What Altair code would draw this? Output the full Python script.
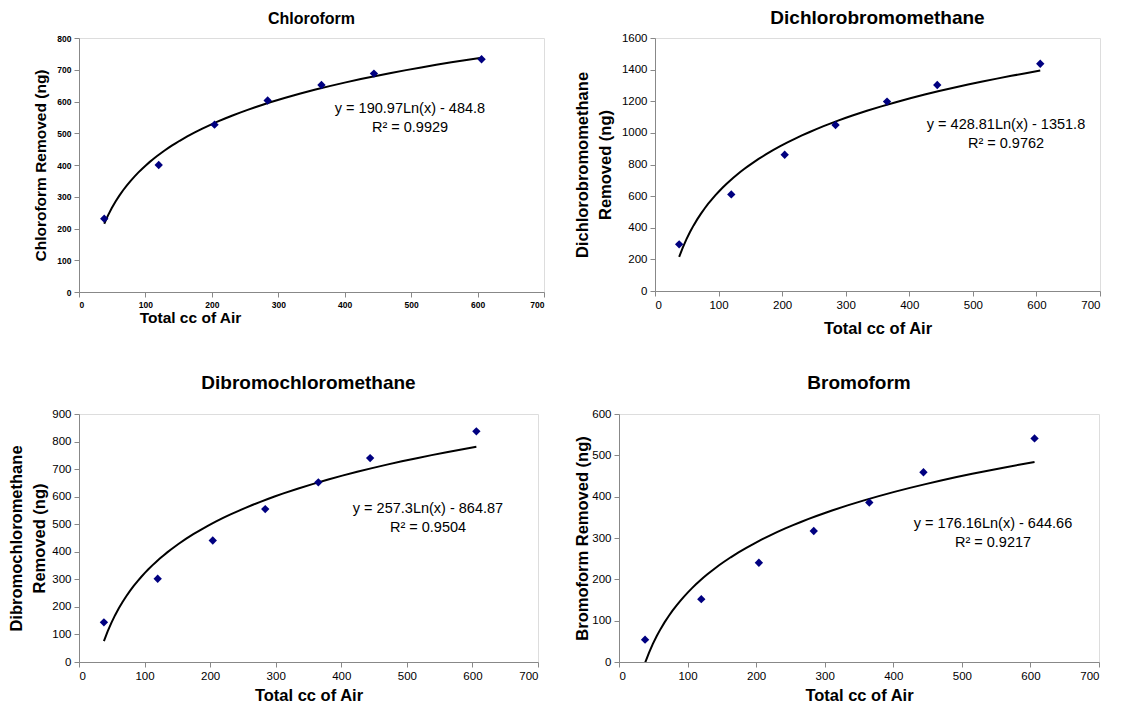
import altair as alt
import pandas as pd

# ---- data ----
air_cc = [38, 120, 204, 284, 365, 444, 606]
chloroform = [231, 400, 527, 603, 652, 688, 733]
dichlorobromomethane = [295, 611, 862, 1050, 1198, 1303, 1437]
dibromochloromethane = [144, 302, 441, 555, 652, 740, 837]
bromoform = [54, 152, 240, 317, 386, 459, 541]

titles = ["Chloroform", "Dichlorobromomethane", "Dibromochloromethane", "Bromoform"]
y_titles = [
    "Chloroform Removed (ng)",
    ["Dichlorobromomethane", "Removed (ng)"],
    ["Dibromochloromethane", "Removed (ng)"],
    "Bromoform Removed (ng)",
]
equations = [
    "y = 190.97Ln(x) - 484.8",
    "y = 428.81Ln(x) - 1351.8",
    "y = 257.3Ln(x) - 864.87",
    "y = 176.16Ln(x) - 644.66",
]
r_squared = ["R\u00b2 = 0.9929", "R\u00b2 = 0.9762", "R\u00b2 = 0.9504", "R\u00b2 = 0.9217"]
y_max = [800, 1600, 900, 600]
y_step = [100, 200, 100, 100]
x_ticks = [0, 100, 200, 300, 400, 500, 600, 700]
x_title = "Total cc of Air"

FONT = "Liberation Sans"


def panel(i, yvals, w, h, label_size, label_weight, title_size, axis_title_size,
          y_title_pad, eq_x, eq_y, title_offset, x_title_pad, x_title_x=None):
    df = pd.DataFrame({"x": air_cc, "y": yvals})
    xaxis_kw = dict(
        values=x_ticks, title=x_title, labelFontSize=label_size, format="d",
        labelFontWeight=label_weight, titleFontSize=axis_title_size,
        titleFontWeight="bold", titlePadding=x_title_pad, labelPadding=3,
        grid=False,
    )
    if x_title_x is not None:
        xaxis_kw["titleX"] = x_title_x
    x = alt.X("x:Q", scale=alt.Scale(domain=[0, 700], nice=False),
              axis=alt.Axis(**xaxis_kw))
    y = alt.Y("y:Q", scale=alt.Scale(domain=[0, y_max[i]], nice=False),
              axis=alt.Axis(values=list(range(0, y_max[i] + 1, y_step[i])),
                            title=y_titles[i], labelFontSize=label_size,
                            format="d", grid=False,
                            labelFontWeight=label_weight,
                            titleFontSize=axis_title_size,
                            titleLineHeight=23,
                            titleFontWeight="bold", titlePadding=y_title_pad,
                            labelPadding=3))
    base = alt.Chart(df)
    line = base.transform_regression("x", "y", method="log").mark_line(
        color="black", strokeWidth=2, clip=True).encode(x=x, y=y)
    pts = base.mark_point(shape="diamond", filled=True, color="#000080",
                          size=70, opacity=1).encode(x=x, y=y)
    ann = alt.Chart(pd.DataFrame({"k": [0]})).mark_text(
        text=[equations[i], r_squared[i]], font=FONT, fontSize=14.5,
        align="center", baseline="middle", lineHeight=19, color="black"
    ).encode(x=alt.value(eq_x), y=alt.value(eq_y))
    return alt.layer(line, pts, ann).properties(
        width=w, height=h,
        title=alt.TitleParams(titles[i], font=FONT, fontSize=title_size,
                              fontWeight="bold", anchor="middle",
                              offset=title_offset, color="black"),
    )


p1 = panel(0, chloroform, 465, 254, 8.5, "bold", 16, 15.5, 8, 331, 71, 7,
           x_title_pad=2, x_title_x=111)
p2 = panel(1, dichlorobromomethane, 445, 253, 11.5, "normal", 19, 16.5, 8,
           351, 87, 4, x_title_pad=10)
p3 = panel(2, dibromochloromethane, 459, 248, 11.5, "normal", 19, 16.5, 4,
           349, 95, 15, x_title_pad=6)
p4 = panel(3, bromoform, 480, 248, 11.5, "normal", 19, 16.5, 1,
           374, 110, 15, x_title_pad=6)

top = alt.hconcat(p1, p2, spacing=28)
bottom = alt.hconcat(p3, p4, spacing=35)

chart = alt.vconcat(top, bottom, spacing=35).properties(
    padding={"left": 0, "top": 0, "right": 0, "bottom": 0}
).configure_view(stroke=None).configure_axis(
    grid=False, domainColor="black", tickColor="black", labelColor="black",
    titleColor="black", labelFont=FONT, titleFont=FONT, tickSize=4,
    domainWidth=1, tickWidth=1,
).configure(background="white")

chart.save("out.html", embed_options={"renderer": "svg", "actions": False})
